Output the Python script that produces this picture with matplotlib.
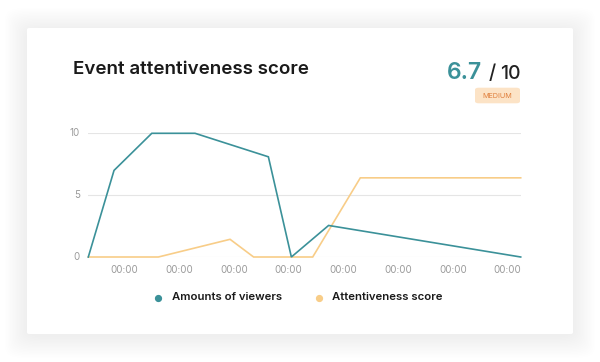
import matplotlib
matplotlib.use("Agg")
import matplotlib.pyplot as plt
from matplotlib.patches import FancyBboxPatch
import numpy as np

plt.rcParams['font.family'] = ['Inter', 'DejaVu Sans']

# ---- data ----
viewers_x = [0, 0.47, 1.16, 1.95, 3.29, 3.71, 4.39, 7.9]
viewers_y = [0, 7.0, 10, 10, 8.1, 0, 2.55, 0]
attn_x = [0, 1.28, 2.59, 3.02, 4.10, 4.97, 7.9]
attn_y = [0, 0, 1.43, 0, 0, 6.4, 6.4]
tick_pos = [0.66 + i for i in range(8)]
tick_labels = ["00:00"] * 8
y_ticks = [0, 5, 10]
title = "Event attentiveness score"
score = "6.7"
score_slash = "/"
score_max = "10"
badge = "MEDIUM"
series_names = ["Amounts of viewers", "Attentiveness score"]

TEAL = "#3B9199"
ORANGE = "#F8CD88"

W, H = 600, 362
fig = plt.figure(figsize=(W / 100, H / 100), dpi=100)
fig.patch.set_facecolor("white")

def fx(px):
    return px / W

def fy(py):
    return 1 - py / H

# soft card shadow
n = 16
for i in range(n):
    g = 22 - i * 22 / n
    fig.patches.append(FancyBboxPatch((fx(27 - g), fy(334 + g + 2)), fx(546 + 2 * g), (306 + 2 * g) / H,
                                      boxstyle="round,pad=0,rounding_size=0.03",
                                      transform=fig.transFigure, facecolor="black",
                                      edgecolor="none", alpha=0.0035, zorder=0))
fig.patches.append(FancyBboxPatch((fx(27), fy(334)), fx(546), 306 / H,
                                  boxstyle="round,pad=0,rounding_size=0.004",
                                  transform=fig.transFigure, facecolor="white",
                                  edgecolor="none", zorder=1))

# axes
ax = fig.add_axes([fx(88.3), fy(257), fx(520.7 - 88.3), (257 - 133.3) / H], zorder=5)
ax.set_facecolor("none")
ax.plot(viewers_x, viewers_y, color=TEAL, lw=1.2, clip_on=False, zorder=3,
        solid_joinstyle="miter")
ax.plot(attn_x, attn_y, color=ORANGE, lw=1.2, clip_on=False, zorder=2,
        solid_joinstyle="miter")
ax.set_xlim(0, 7.9)
ax.set_ylim(0, 10)
ax.set_yticks(y_ticks)
ax.set_yticklabels([str(v) for v in y_ticks])
for lbl in ax.get_yticklabels():
    lbl.set_va("bottom")
ax.set_xticks(tick_pos)
ax.set_xticklabels(tick_labels)
for s in ax.spines.values():
    s.set_visible(False)
ax.grid(axis="y", color="#E5E5E5", lw=0.8)
ax.tick_params(axis="both", length=0, colors="#9A9A9A", labelsize=7)
ax.tick_params(axis="x", pad=6)
ax.tick_params(axis="y", pad=6)
for lbl in ax.get_yticklabels():
    lbl.set_va("center")
    lbl.set_y(lbl.get_position()[1])

# title
fig.text(fx(73), fy(70), title, fontsize=13.5, fontweight="semibold", color="#1A1A1A",
         va="center", ha="left", zorder=6)
# score
fig.text(fx(482), fy(73), score, fontsize=16.5, fontweight="semibold", color=TEAL,
         va="center", ha="right", zorder=6)
fig.text(fx(495.5), fy(74), score_slash, fontsize=14, fontweight="medium", color="#222222",
         va="center", ha="right", zorder=6)
fig.text(fx(520.5), fy(74), score_max, fontsize=14, fontweight="medium", color="#222222",
         va="center", ha="right", zorder=6)
# badge
fig.patches.append(FancyBboxPatch((fx(475), fy(103.3)), fx(45), 15.6 / H,
                                  boxstyle="round,pad=0,rounding_size=0.006",
                                  transform=fig.transFigure, facecolor="#FCE3C6",
                                  edgecolor="none", zorder=2))
fig.text(fx(497.5), fy(95.8), badge, fontsize=5.2, color="#E0803E", va="center", ha="center",
         zorder=6)

# legend
lx = [158, 319]
for x0, name, c in zip(lx, series_names, [TEAL, ORANGE]):
    fig.lines.append(plt.Line2D([fx(x0)], [fy(298)], marker="o", markersize=4.2,
                                color=c, transform=fig.transFigure, linestyle="none",
                                zorder=6))
    fig.text(fx(x0 + 13.5), fy(297.5), name, fontsize=8.2, fontweight="semibold",
             color="#1A1A1A", va="center", ha="left", zorder=6)

fig.savefig("out.png", dpi=100)
